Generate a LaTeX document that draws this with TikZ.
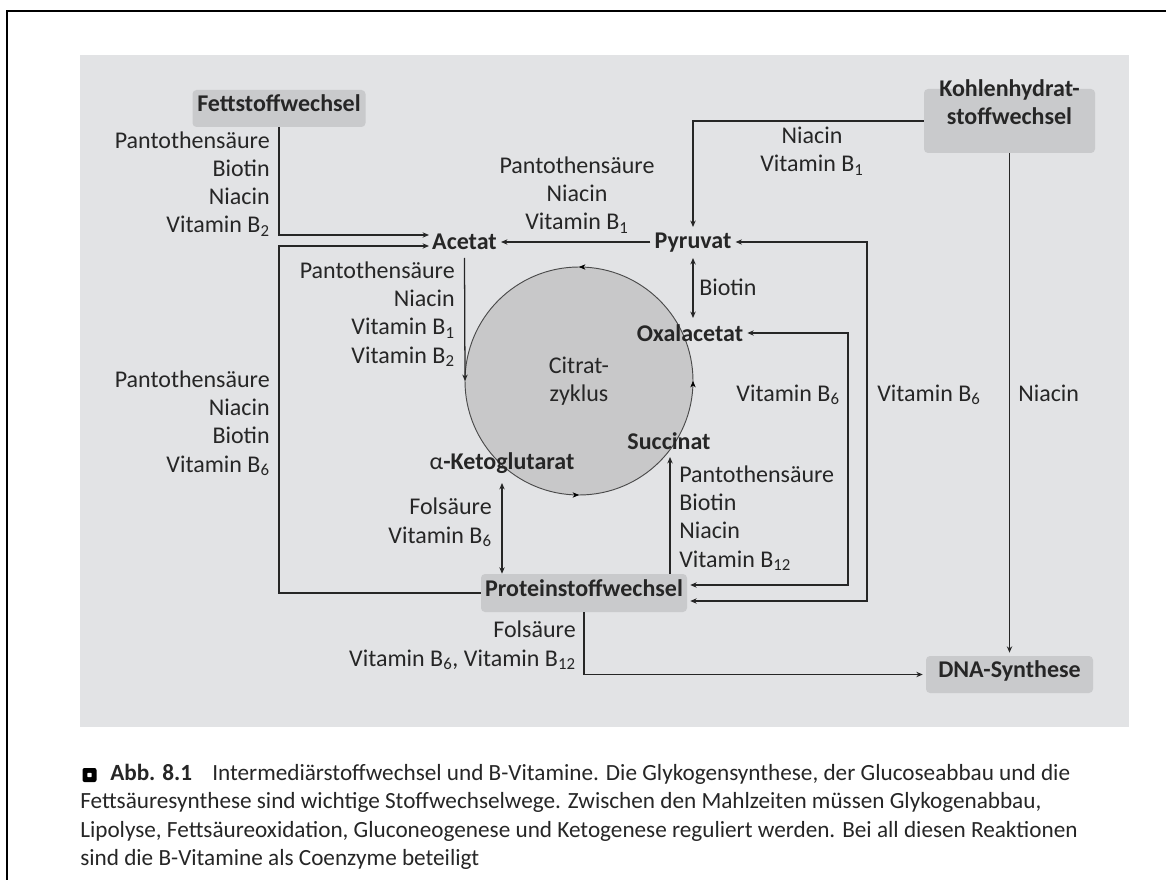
\documentclass[tikz,border=0pt]{standalone}
\usepackage{fontspec}
\setmainfont{Carlito}
\usetikzlibrary{arrows.meta,calc,decorations.markings}
\definecolor{panel}{HTML}{E2E3E5}
\definecolor{boxgrey}{HTML}{C9CACC}
\definecolor{cyclefill}{HTML}{C8C8C9}
\definecolor{cycleline}{HTML}{4A4A4A}
\definecolor{ink}{HTML}{262626}
\newcommand\diagfont{\fontsize{18}{21.2}\selectfont}
\tikzset{
  arrtip/.tip={Stealth[length=4.8pt,width=4pt]},
  conn/.style={line width=0.95pt, draw=ink},
  arr/.style={conn, -arrtip},
  arr2/.style={conn, arrtip-arrtip},
  box/.style={fill=boxgrey, rounded corners=3pt, inner xsep=2pt, inner ysep=0pt,
    minimum height=27.75pt, font=\diagfont\bfseries, text=ink, align=center,
    text height=0.72em, text depth=0.22em},
  met/.style={font=\diagfont\bfseries, inner sep=0pt, anchor=base, text=ink},
  lab/.style={inner sep=0pt, text=ink, font=\diagfont},
  tcacircle/.style={circle, fill=cyclefill, draw=cycleline, line width=0.7pt,
    minimum size=171pt, inner sep=0pt, outer sep=0pt, align=center, text=ink,
    font=\diagfont},
  cycmarks/.style={decorate, decoration={markings,
    mark=at position 0.125 with {\arrow{arrtip}},
    mark=at position 0.375 with {\arrow{arrtip}},
    mark=at position 0.875 with {\arrow{arrtip}}}},
  captext/.style={inner sep=0pt, anchor=base west, text=ink,
    font=\fontsize{17.4}{21}\selectfont},
}
\begin{document}
\begin{tikzpicture}[x=0.75pt, y=-0.75pt, font=\diagfont]
\useasboundingbox (0,0) rectangle (1166,880);
\fill[white] (0,0) rectangle (1166,880);
% page frame and figure panel
\draw[line width=2.2pt, black] (7,880) -- (7,11) -- (1166,11);
\fill[panel] (80,55) rectangle (1129,727);

% metabolic blocks
\node[box, minimum width=129.75pt] (fett) at (279,108.5) {Fettstoffwechsel};
\node[box, minimum width=128.25pt, minimum height=48pt] (kohlen) at (1009.5,121) {Kohlenhydrat-\\stoffwechsel};
\node[box, minimum width=154.5pt, minimum height=28.5pt] (protein) at (584,593) {Proteinstoffwechsel};
\node[box, minimum width=125.25pt] (dna) at (1009.5,674.5) {DNA-Synthese};

% citric acid cycle
\node[tcacircle] (tca) at (579,381) {Citrat-\\zyklus};
\path[cycmarks] (tca.315) arc[start angle=-45, end angle=315, radius=85.5pt];

% intermediates
\node[met] (acetat) at (464.5,250) {Acetat};
\node[met] (pyruvat) at (693,249) {Pyruvat};
\node[met] (oxal) at (690,341) {Oxalacetat};
\node[met] (succ) at (669,449) {Succinat};
\node[met] (keto) at (502,469) {{\mdseries α}-Ketoglutarat};

% connector ports
\coordinate (acIn1) at ($(acetat.base west)+(-3,-15)$);
\coordinate (acIn2) at ($(acetat.base west)+(-3,-4)$);
\coordinate (acIn3) at ($(acetat.base east)+(4,-8)$);
\coordinate (acBot) at ($(acetat.base)+(0,8)$);
\coordinate (pyOut) at ($(pyruvat.base west)+(-4,-7)$);
\coordinate (pyIn) at ($(pyruvat.base east)+(4,-7)$);
\coordinate (pyTop) at ($(pyruvat.base)+(0,-22)$);
\coordinate (pyBot) at ($(pyruvat.base)+(0,9)$);
\coordinate (oxTop) at ($(oxal.base)+(3,-23)$);
\coordinate (oxIn) at ($(oxal.base east)+(4,-8)$);
\coordinate (succBot) at ($(succ.base)+(1,8)$);
\coordinate (ketoBot) at ($(keto.base)+(0,14)$);
\coordinate (prIn1) at ($(protein.east)+(3,-8)$);
\coordinate (prIn2) at ($(protein.east)+(3,8)$);
\coordinate (colA) at (848,0);
\coordinate (colB) at (867,0);

% connectors
\draw[arr] (fett.south) |- (acIn1);
\draw[arr] (protein.west) -| (fett.south |- acIn2) -- (acIn2);
\draw[arr] (pyOut) -- (acIn3);
\draw[arr] (acBot) -- (tca.west);
\draw[arr] (kohlen.west) -| (pyTop);
\draw[arr2] (pyBot) -- (oxTop);
\draw[arr2] (oxIn) -| (colA |- prIn1) -- (prIn1);
\draw[arr2] (pyIn) -| (colB |- prIn2) -- (prIn2);
\draw[arr2] (ketoBot) -- (ketoBot |- protein.north);
\draw[arr] (succBot |- protein.north) -- (succBot);
\draw[arr, shorten >=2.25pt] (kohlen.south) -- (dna.north);
\draw[arr, shorten >=2.25pt] (protein.south) |- (dna.west);

% cofactor labels (anchored at the baseline of their last line)
\node[lab, anchor=base east, align=right] at (270,233) {Pantothensäure\\Biotin\\Niacin\\Vitamin B\textsubscript{2}};
\node[lab, anchor=base east, align=right] at (270,472) {Pantothensäure\\Niacin\\Biotin\\Vitamin B\textsubscript{6}};
\node[lab, anchor=base east, align=right] at (455,363) {Pantothensäure\\Niacin\\Vitamin B\textsubscript{1}\\Vitamin B\textsubscript{2}};
\node[lab, anchor=base, align=center] at (577,230) {Pantothensäure\\Niacin\\Vitamin B\textsubscript{1}};
\node[lab, anchor=base, align=center] at (812,172) {Niacin\\Vitamin B\textsubscript{1}};
\node[lab, anchor=base west] at (699,296) {Biotin};
\node[lab, anchor=base east, align=right] at (492,543) {Folsäure\\Vitamin B\textsubscript{6}};
\node[lab, anchor=base west, align=left] at (679,567) {Pantothensäure\\Biotin\\Niacin\\Vitamin B\textsubscript{12}};
\node[lab, anchor=base east] at (840,401) {Vitamin B\textsubscript{6}};
\node[lab, anchor=base west] at (877,401) {Vitamin B\textsubscript{6}};
\node[lab, anchor=base west] at (1018,401) {Niacin};
\node[lab, anchor=base east, align=right] at (576,666) {Folsäure\\Vitamin B\textsubscript{6}, Vitamin B\textsubscript{12}};

% caption
\node[fill=black, rounded corners=1.5pt, minimum size=10.5pt, inner sep=0pt] (icon) at (89.5,775) {};
\node[fill=white, rounded corners=0.4pt, minimum size=3.2pt, inner sep=0pt] at (icon.center) {};
\node[captext] at (110,780) {\textbf{Abb. 8.1}};
\node[captext] at (212,780) {Intermediärstoffwechsel und B-Vitamine. Die Glykogensynthese, der Glucoseabbau und die};
\node[captext] at (80,808) {Fettsäuresynthese sind wichtige Stoffwechselwege. Zwischen den Mahlzeiten müssen Glykogenabbau,};
\node[captext] at (80,837) {Lipolyse, Fettsäureoxidation, Gluconeogenese und Ketogenese reguliert werden. Bei all diesen Reaktionen};
\node[captext] at (80,865) {sind die B-Vitamine als Coenzyme beteiligt};
\end{tikzpicture}
\end{document}
